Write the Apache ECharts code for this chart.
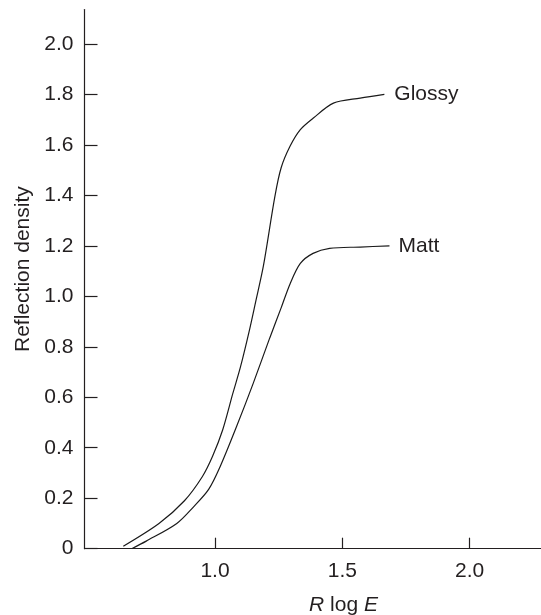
<!DOCTYPE html>
<html lang="en">
<head>
    <meta charset="UTF-8">
    <title>Reflection density</title>
    <script src="https://cdn.jsdelivr.net/npm/echarts@6/dist/echarts.min.js"></script>
    <style>
        html, body { margin: 0; padding: 0; background: #fff; }
    </style>
</head>
<body>
<div id="main" style="width: 541px;height:615px;"></div>
<script type="text/javascript">
    // values: [R log E, density]
    var glossy = [
        [0.64, 0.01], [0.78, 0.10], [0.88, 0.19], [0.95, 0.285], [0.99, 0.365],
        [1.03, 0.47], [1.07, 0.615], [1.10, 0.72], [1.135, 0.865], [1.16, 0.98],
        [1.19, 1.12], [1.235, 1.395], [1.26, 1.51], [1.295, 1.595], [1.335, 1.66],
        [1.385, 1.705], [1.465, 1.765], [1.57, 1.785], [1.665, 1.80]
    ];
    var matt = [
        [0.673, 0.0], [0.73, 0.03], [0.85, 0.10], [0.915, 0.165], [0.975, 0.235],
        [1.02, 0.325], [1.085, 0.485], [1.15, 0.655], [1.215, 0.835], [1.26, 0.955],
        [1.295, 1.05], [1.335, 1.13], [1.385, 1.17], [1.45, 1.19], [1.57, 1.195],
        [1.685, 1.20]
    ];
    var xTicks = [1.0, 1.5, 2.0];
    var yTicks = [0, 0.2, 0.4, 0.6, 0.8, 1.0, 1.2, 1.4, 1.6, 1.8, 2.0];

    var txt = '#231f20';
    var font = 'Liberation Sans, Arial, sans-serif';
    var fs = 21;

    var myChart = echarts.init(document.getElementById('main'));

    myChart.setOption({
        animation: false,
        backgroundColor: '#fff',
        textStyle: { fontFamily: font },
        grid: {
            left: 84.5,
            right: 0.5,
            top: 9.5,
            bottom: 66.3,
            containLabel: false,
            outerBoundsMode: 'none'
        },
        xAxis: {
            type: 'value',
            min: 0.4876,
            max: 2.278,
            splitLine: { show: false },
            axisLine: { lineStyle: { color: txt, width: 1.2 } },
            axisTick: {
                customValues: xTicks,
                inside: true,
                length: 11,
                lineStyle: { color: txt, width: 1.2 }
            },
            axisLabel: {
                customValues: xTicks,
                color: txt,
                fontSize: fs,
                margin: 12,
                formatter: function (v) { return v.toFixed(1); }
            },
            name: '{i|R} log {i|E}',
            nameLocation: 'middle',
            nameGap: 46,
            nameTextStyle: {
                color: txt,
                fontSize: fs,
                padding: [0, 0, 0, 62],
                rich: {
                    i: { fontStyle: 'italic', fontSize: fs, color: txt }
                }
            }
        },
        yAxis: {
            type: 'value',
            min: 0,
            max: 2.136,
            splitLine: { show: false },
            axisLine: { show: true, lineStyle: { color: txt, width: 1.2 } },
            axisTick: {
                show: true,
                customValues: yTicks,
                inside: true,
                length: 13,
                lineStyle: { color: txt, width: 1.2 }
            },
            axisLabel: {
                customValues: yTicks,
                color: txt,
                fontSize: fs,
                margin: 11,
                formatter: function (v) { return v === 0 ? '0' : v.toFixed(1); }
            },
            name: 'Reflection density',
            nameLocation: 'middle',
            nameGap: 50,
            nameTextStyle: {
                color: txt,
                fontSize: fs,
                padding: [0, 0, 0, 20]
            }
        },
        series: [
            {
                name: 'Glossy',
                type: 'line',
                data: glossy,
                smooth: 0.3,
                symbol: 'none',
                lineStyle: { color: '#1a1a1a', width: 1.2 },
                endLabel: {
                    show: true,
                    formatter: '{a}',
                    color: txt,
                    fontSize: fs,
                    distance: 10
                }
            },
            {
                name: 'Matt',
                type: 'line',
                data: matt,
                smooth: 0.3,
                symbol: 'none',
                lineStyle: { color: '#1a1a1a', width: 1.2 },
                endLabel: {
                    show: true,
                    formatter: '{a}',
                    color: txt,
                    fontSize: fs,
                    distance: 9
                }
            }
        ]
    });
</script>
</body>
</html>
